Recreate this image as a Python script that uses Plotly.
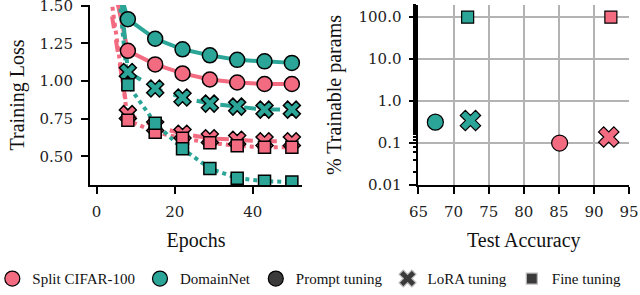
import plotly.graph_objects as go

# ---------------- data ----------------
epochs = [1, 8, 15, 22, 29, 36, 43, 50]

cifar_prompt = [2.04, 1.20, 1.11, 1.05, 1.01, 0.99, 0.98, 0.98]
cifar_lora = [1.90, 0.78, 0.70, 0.65, 0.62, 0.61, 0.60, 0.60]
cifar_fine = [2.07, 0.74, 0.66, 0.62, 0.59, 0.57, 0.56, 0.56]
domain_prompt = [2.04, 1.41, 1.28, 1.21, 1.17, 1.14, 1.13, 1.12]
domain_lora = [3.10, 1.06, 0.95, 0.89, 0.85, 0.83, 0.81, 0.81]
domain_fine = [2.80, 0.975, 0.72, 0.55, 0.42, 0.355, 0.335, 0.33]

methods = ["Prompt tuning", "LoRA tuning", "Fine tuning"]
cifar_acc = [85.1, 92.1, 92.4]
cifar_params = [0.10, 0.139, 100.0]
domain_acc = [67.4, 72.4, 72.0]
domain_params = [0.315, 0.343, 100.0]

loss_ticks = [0.50, 0.75, 1.00, 1.25, 1.50]
epoch_ticks = [0, 20, 40]
acc_ticks = [65, 70, 75, 80, 85, 90, 95]
param_ticks = [0.01, 0.1, 1.0, 10.0, 100.0]
param_tick_labels = ["0.01", "0.1", "1.0", "10.0", "100.0"]

# ---------------- styles ----------------
PINK = "#F26B80"
TEAL = "#2AA597"
DARK = "#3a3a3a"
TFONT = "DejaVu Serif"
FONT = "Liberation Serif"
symbols = {"Prompt tuning": "circle", "LoRA tuning": "x", "Fine tuning": "square"}
sizes_l = {"Prompt tuning": 15, "LoRA tuning": 15, "Fine tuning": 12}
sizes_r = {"Prompt tuning": 16, "LoRA tuning": 18, "Fine tuning": 12}
dashes = {"Prompt tuning": "solid", "LoRA tuning": "dash", "Fine tuning": "dot"}

fig = go.Figure()

left_series = [
    ("Split CIFAR-100", PINK, "Prompt tuning", cifar_prompt),
    ("Split CIFAR-100", PINK, "LoRA tuning", cifar_lora),
    ("Split CIFAR-100", PINK, "Fine tuning", cifar_fine),
    ("DomainNet", TEAL, "Prompt tuning", domain_prompt),
    ("DomainNet", TEAL, "LoRA tuning", domain_lora),
    ("DomainNet", TEAL, "Fine tuning", domain_fine),
]

# lines first
for ds, col, m, vals in left_series:
    fig.add_trace(go.Scatter(
        x=epochs, y=vals, mode="lines", xaxis="x", yaxis="y",
        line=dict(color=col, width=4, dash=dashes[m]),
        showlegend=False, hoverinfo="skip", cliponaxis=True))
# markers on top (skip epoch 1)
order = [1, 2, 0, 4, 5, 3]
for i in order:
    ds, col, m, vals = left_series[i]
    fig.add_trace(go.Scatter(
        x=epochs[1:], y=vals[1:], mode="markers", xaxis="x", yaxis="y",
        marker=dict(symbol=symbols[m], size=sizes_l[m], color=col,
                    line=dict(color="black", width=1.5)),
        showlegend=False, cliponaxis=True))

# right scatter
for accs, params, col in [(domain_acc, domain_params, TEAL), (cifar_acc, cifar_params, PINK)]:
    for j, m in enumerate(methods):
        fig.add_trace(go.Scatter(
            x=[accs[j]], y=[params[j]], mode="markers", xaxis="x2", yaxis="y2",
            marker=dict(symbol=symbols[m], size=sizes_r[m], color=col,
                        line=dict(color="black", width=1.2)),
            showlegend=False, cliponaxis=False))

# legend entries
legend_items = [
    ("Split CIFAR-100", "circle", PINK, "black", 15),
    ("DomainNet", "circle", TEAL, "black", 15),
    ("Prompt tuning", "circle", DARK, "black", 15),
    ("LoRA tuning", "x", DARK, "#bbbbbb", 15),
    ("Fine tuning", "square", DARK, "#bbbbbb", 11),
]
for name, sym, col, lc, sz in legend_items:
    fig.add_trace(go.Scatter(
        x=[None], y=[None], mode="markers", name=name, xaxis="x", yaxis="y",
        marker=dict(symbol=sym, size=sz, color=col, line=dict(color=lc, width=1.2))))

axis_common = dict(
    showline=True, linecolor="black", linewidth=2, mirror=False,
    ticks="outside", ticklen=7, tickwidth=1.8, tickcolor="black",
    tickfont=dict(family=TFONT, size=15, color="#222"),
    ticklabelstandoff=5, ticklabeloverflow="allow",
    zeroline=False, automargin=False,
)
title_font = dict(family=FONT, size=20, color="#111")

fig.update_layout(
    width=640, height=295,
    margin=dict(l=0, r=0, t=0, b=0, autoexpand=False),
    paper_bgcolor="white", plot_bgcolor="white",
    font=dict(family=FONT, color="#111"),
    xaxis=dict(domain=[0.1406, 0.4719], range=[-1.7, 52.6], tickvals=epoch_ticks,
               showgrid=False, anchor="y",
               title=dict(text="Epochs", font=title_font, standoff=13),
               **axis_common),
    yaxis=dict(domain=[0.3729, 0.9831], range=[0.31, 1.504], tickvals=loss_ticks,
               tickformat=".2f", showgrid=False, anchor="x",
               title=dict(text="Training Loss", font=title_font, standoff=10),
               **axis_common),
    xaxis2=dict(domain=[0.6539, 0.9830], range=[65, 95], tickvals=acc_ticks,
                showgrid=True, gridcolor="#b3b3b3", gridwidth=1.8, anchor="y2",
                layer="above traces",
                title=dict(text="Test Accuracy", font=title_font, standoff=13),
                **axis_common),
    yaxis2=dict(domain=[0.3729, 0.9831], type="log", range=[-2, 2.29],
                tickvals=param_ticks, ticktext=param_tick_labels,
                showgrid=True, gridcolor="#b3b3b3", gridwidth=1.8, anchor="x2",
                layer="above traces",
                minor=dict(ticks="outside", ticklen=3, tickcolor="black", showgrid=False),
                title=dict(text="% Trainable params", font=title_font, standoff=12),
                **axis_common),
    legend=dict(orientation="h", x=-0.012, xanchor="left", y=-0.001, yanchor="bottom",
                font=dict(family=FONT, size=15, color="#111"),
                itemwidth=30, tracegroupgap=0, bgcolor="rgba(0,0,0,0)"),
    showlegend=True,
)

fig.write_html("out.html", config={"displayModeBar": False},
               post_script="document.body.style.margin='0px';")
